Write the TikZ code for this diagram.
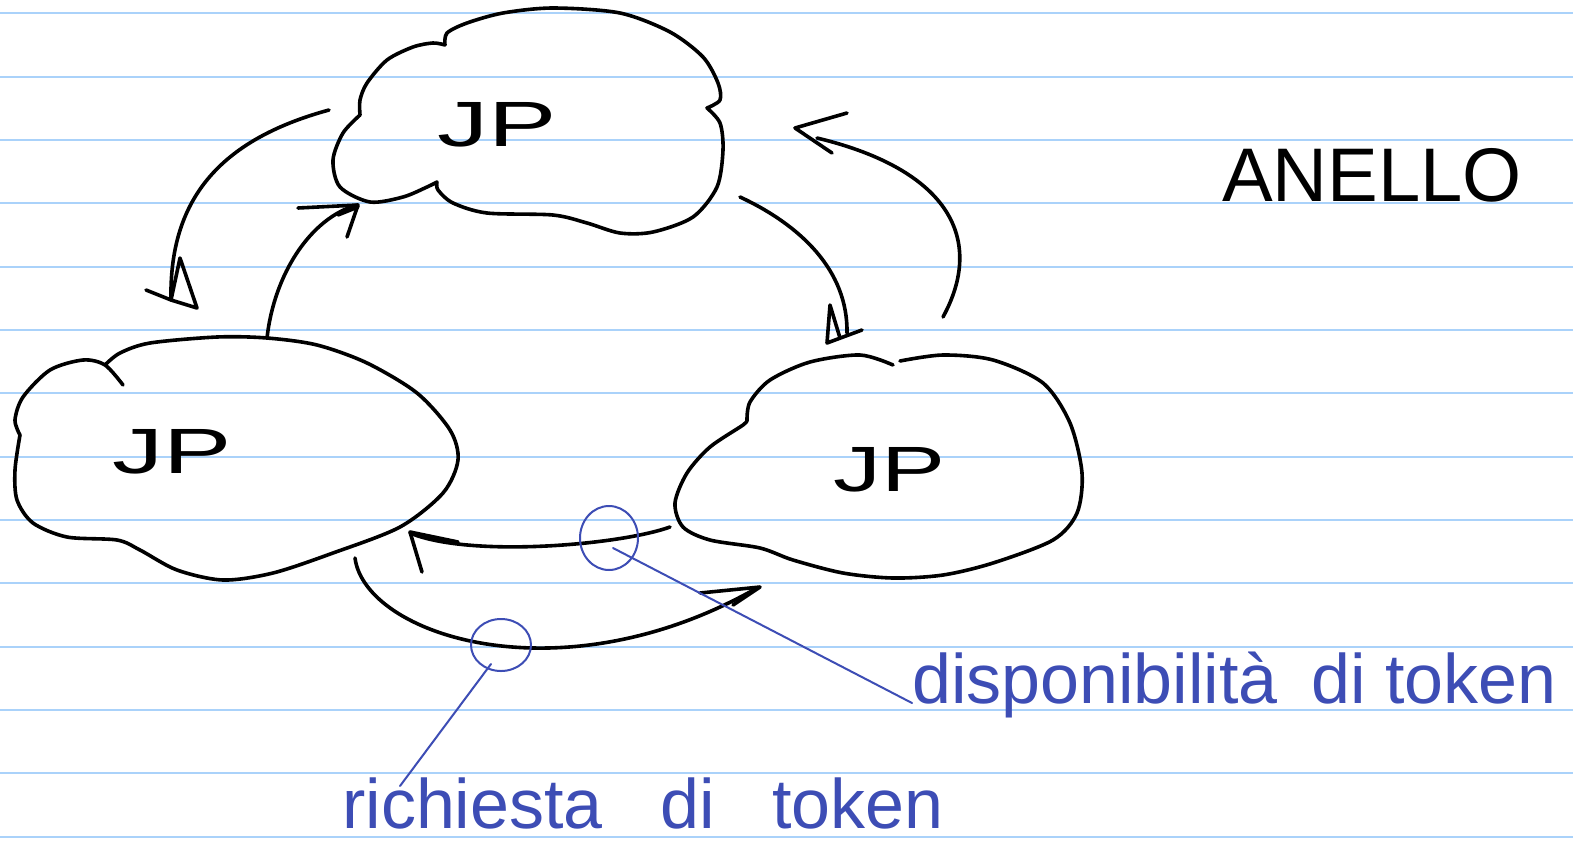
\documentclass[tikz,border=0pt]{standalone}
\usepackage{fontspec}
\setmainfont{Liberation Sans}
\definecolor{ruleblue}{HTML}{AAD2FA}
\definecolor{penblue}{HTML}{3D4DB5}
\begin{document}
\begin{tikzpicture}[x=1pt,y=-1pt,
  ink/.style={line width=3.6pt, line cap=round, line join=round, black},
  pen/.style={line width=2pt, line cap=round, line join=round, penblue},
  rulestyle/.style={line width=2pt, ruleblue},
  jp/.style={inner sep=0pt, font=\fontsize{64}{70}\selectfont},
  title/.style={inner sep=0pt, font=\fontsize{76}{80}\selectfont},
  note/.style={inner sep=0pt, text=penblue, font=\fontsize{70}{74}\selectfont}]
\fill[white] (0,0) rectangle (1573,844);
\useasboundingbox (0,0) rectangle (1573,844);
\foreach \i in {0,...,13} \draw[rulestyle] (0,13.3+63.33*\i) -- (1573,13.3+63.33*\i);

% clouds
\draw[ink] plot[smooth] coordinates {(445,45) (447,33) (467,23) (503,13) (553,8) (620,13) (670,32) (703,57) (718,83) (720,100) (707,108)}
  -- plot[smooth] coordinates {(707,108) (720,123) (723,150) (717,187) (693,217) (653,232) (620,233) (587,223) (553,215) (487,213) (453,203) (438,190) (437,182)}
  -- plot[smooth] coordinates {(437,182) (427,187) (403,197) (370,202) (340,187) (333,160) (343,133) (360,115)}
  -- plot[smooth] coordinates {(360,115) (360,100) (367,83) (387,60) (413,47) (433,43) (445,45)};
\draw[ink] plot[smooth] coordinates {(123,385) (105,365) (83,360) (50,370) (23,397) (15,420) (20,435)}
  -- plot[smooth] coordinates {(20,435) (15,470) (17,500) (33,523) (67,537) (117,540) (140,550) (177,570) (223,580) (273,573) (333,553) (400,527) (443,493) (458,460) (450,430) (417,393) (367,363) (317,345) (267,338) (217,337) (150,343) (120,353) (105,365)};
\draw[ink] plot[smooth] coordinates {(900,361) (943,355) (993,360) (1043,383) (1070,423) (1082,473) (1077,513) (1053,540) (993,563) (943,575) (893,578) (843,573) (793,560) (760,548) (710,540) (683,527) (675,503) (687,473) (710,447) (743,425) (747,420)}
  -- plot[smooth] coordinates {(747,420) (750,402) (770,380) (810,362) (860,355) (893,365)};

% labels
\node[jp] (jptop) at (497,125) {\scalebox{1.6}[1]{JP}};
\node[jp] (jpleft) at (172,452) {\scalebox{1.6}[1]{JP}};
\node[jp] (jpright) at (890,470) {\scalebox{1.5}[1]{JP}};
\node[title] (anello) at (1372,175) {ANELLO};
\node[note, anchor=base west] (rich) at (342,828) {richiesta\hspace{38pt} di\hspace{38pt} token};
\node[note, anchor=base west] (disp) at (912,703) {disponibilità\hspace{14pt} di token};

% arrow end points
\coordinate (a1s) at (329,110); \coordinate (a1e) at (171,300);
\coordinate (a2s) at (267,338); \coordinate (a2e) at (357,205);
\coordinate (a3s) at (740,197); \coordinate (a3e) at (847,333);
\coordinate (a4s) at (943,317); \coordinate (a4e) at (817,138);
\coordinate (a5s) at (670,527); \coordinate (a5e) at (410,533);
\coordinate (a6s) at (355,558); \coordinate (a6e) at (757,588);

% connectors
\draw[ink] (a1s) .. controls (219,140) and (169,200) .. (a1e);
\draw[ink] (146,290) -- (a1e) -- (180,258) -- (197,308) -- (a1e);
\draw[ink] (a2s) .. controls (274,275) and (310,218) .. (a2e);
\draw[ink] (298,208) -- (358,205) -- (347,237);
\draw[ink] (338,215) -- (358,207);
\draw[ink] (a3s) .. controls (800,225) and (848,270) .. (a3e);
\draw[ink] (840,338) -- (830,305) -- (827,343) -- (862,330);
\draw[ink] (a4s) .. controls (985,240) and (950,170) .. (a4e);
\draw[ink] (847,113) -- (795,128) -- (832,153);
\draw[ink] (a5s) .. controls (620,545) and (470,558) .. (a5e);
\draw[ink] (458,542) -- (410,532) -- (422,572);
\draw[ink] (a6s) .. controls (365,635) and (560,700) .. (a6e);
\draw[ink] (700,593) -- (760,587) -- (733,605);

% annotation circles and pointers
\coordinate (c1) at (609,538);
\coordinate (c2) at (501,645);
\draw[pen] (c1) ellipse [x radius=29, y radius=32];
\draw[pen] (c2) ellipse [x radius=30, y radius=26];
\draw[pen] (613,548) -- (disp.base west);
\draw[pen] (491,664) -- (400,786);
\end{tikzpicture}
\end{document}
